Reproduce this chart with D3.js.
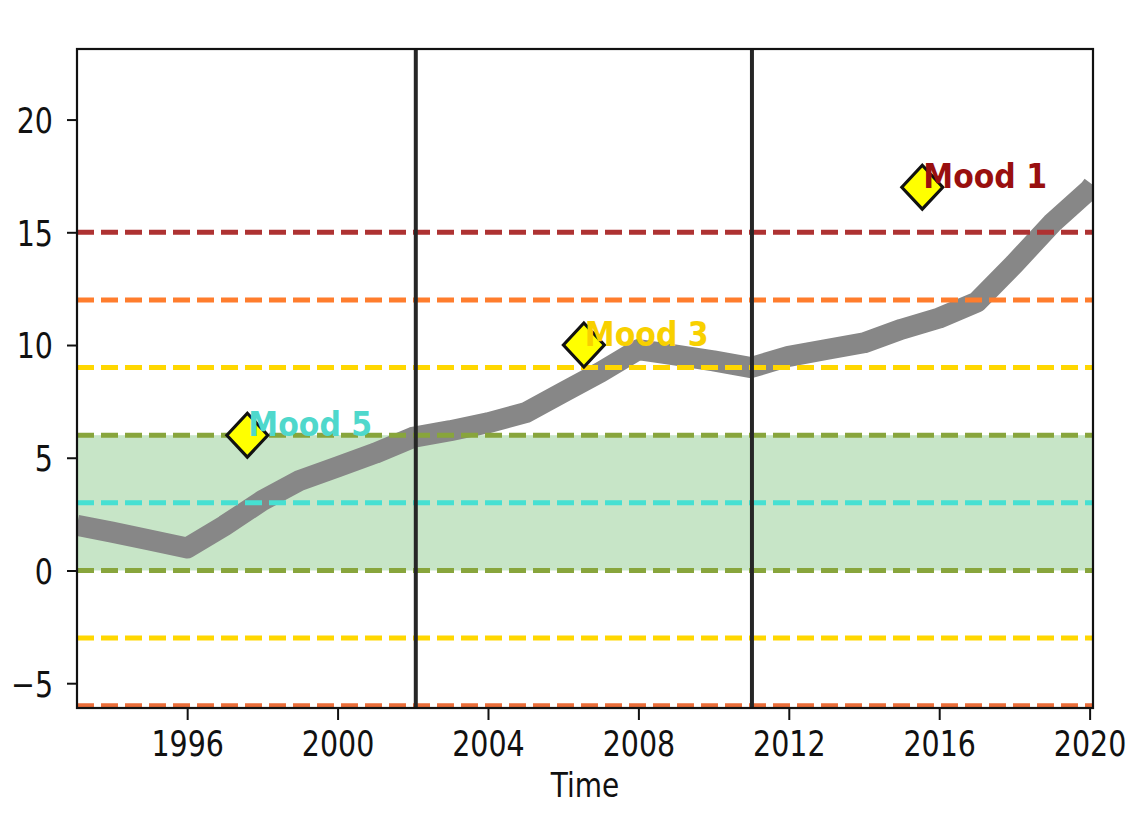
<!DOCTYPE html>
<html>
<head>
<meta charset="utf-8">
<script src="https://cdn.jsdelivr.net/npm/d3@7"></script>
<style>
  body { margin: 0; background: #fff; }
  svg { display: block; font-family: "DejaVu Sans", sans-serif; }
</style>
</head>
<body>
<svg id="chart" width="1132" height="820"></svg>
<script>
/* data */
var years = [1993.07, 1994, 1995, 1996, 1997, 1998, 1999, 2000, 2001, 2002, 2003, 2004, 2005, 2006,
             2007, 2008, 2009, 2010, 2011, 2012, 2013, 2014, 2015, 2016, 2017, 2018, 2019, 2020, 2020.09];
var values = [2.0, 1.7, 1.35, 1.0, 2.0, 3.1, 4.0, 4.6, 5.2, 5.9, 6.2, 6.55, 7.0, 7.9,
              8.8, 9.8, 9.55, 9.3, 9.0, 9.5, 9.8, 10.1, 10.7, 11.2, 11.9, 13.6, 15.4, 16.9, 17.1];

var levelValues = [15, 12, 9, 6, 3, 0, -3, -6];
var levelColors = ["#ae3232", "#ff7d2d", "#ffd700", "#88a53c", "#46e0d2", "#88a53c", "#ffd700", "#ea6e3a"];

var bandRange = [0, 6];
var periodBreaks = [2002.08, 2011.02];

var moodNames = ["Mood 5", "Mood 3", "Mood 1"];
var moodYears = [1997.6, 2006.55, 2015.55];
var moodValues = [6, 10, 17];
var moodColors = ["#4fd8cc", "#f8d000", "#990f0f"];

var xTicks = [1996, 2000, 2004, 2008, 2012, 2016, 2020];
var yTicks = [-5, 0, 5, 10, 15, 20];

/* layout */
var svg = d3.select("#chart");
var margin = { left: 77, top: 49, right: 1132 - 1093, bottom: 820 - 708 };
var width = 1132 - margin.left - margin.right;
var height = 820 - margin.top - margin.bottom;

var x = d3.scaleLinear().domain([1993.07, 2020.09]).range([0, width]);
var y = d3.scaleLinear().domain([-6.1, 23.13]).range([height, 0]);

var g = svg.append("g").attr("transform", `translate(${margin.left},${margin.top})`);

svg.append("defs").append("clipPath").attr("id", "plot-clip")
    .append("rect").attr("width", width).attr("height", height);

var plot = g.append("g").attr("clip-path", "url(#plot-clip)");

// green band
plot.append("rect")
    .attr("x", 0).attr("width", width)
    .attr("y", y(bandRange[1]))
    .attr("height", y(bandRange[0]) - y(bandRange[1]))
    .attr("fill", "#c7e5c7");

// grey series
var series = years.map((d, i) => ({ t: d, v: values[i] }));
plot.append("path")
    .datum(series)
    .attr("fill", "none")
    .attr("stroke", "#878787")
    .attr("stroke-width", 21)
    .attr("stroke-linejoin", "round")
    .attr("d", d3.line().x(d => x(d.t)).y(d => y(d.v)));

// dashed level lines
plot.selectAll(".level")
    .data(levelValues)
    .join("line")
    .attr("class", "level")
    .attr("x1", 0).attr("x2", width)
    .attr("y1", d => y(d)).attr("y2", d => y(d))
    .attr("stroke", (d, i) => levelColors[i])
    .attr("stroke-width", 5)
    .attr("stroke-dasharray", "17 7");

// period separators
plot.selectAll(".period")
    .data(periodBreaks)
    .join("line")
    .attr("class", "period")
    .attr("x1", d => x(d)).attr("x2", d => x(d))
    .attr("y1", 0).attr("y2", height)
    .attr("stroke", "#262626")
    .attr("stroke-width", 4);

// mood markers
var moods = moodNames.map((n, i) => ({ name: n, t: moodYears[i], v: moodValues[i], color: moodColors[i] }));
var square = d3.symbol(d3.symbolSquare, 841);
plot.selectAll(".marker")
    .data(moods)
    .join("path")
    .attr("class", "marker")
    .attr("d", square)
    .attr("transform", d => `translate(${x(d.t)},${y(d.v)}) scale(1,1.07) rotate(45)`)
    .attr("fill", "#ffff00")
    .attr("stroke", "#111")
    .attr("stroke-width", 3);

plot.selectAll(".mood")
    .data(moods)
    .join("text")
    .attr("class", "mood")
    .attr("transform", d => `translate(${x(d.t) + 1},${y(d.v) + 1}) scale(1,1.15)`)
    .attr("fill", d => d.color)
    .attr("font-size", 30)
    .attr("font-weight", "bold")
    .text(d => d.name);

// axes
var xAxis = g.append("g")
    .attr("transform", `translate(0,${height})`)
    .call(d3.axisBottom(x).tickValues(xTicks).tickFormat(d3.format("d")).tickSize(12).tickSizeOuter(0));
xAxis.selectAll("text")
    .attr("y", 38.5).attr("dy", 0)
    .attr("transform", "scale(1,1.25)")
    .attr("font-size", 28.5).attr("fill", "#111")
    .attr("font-family", "DejaVu Sans, sans-serif");

var yAxis = g.append("g")
    .call(d3.axisLeft(y).tickValues(yTicks).tickSize(10).tickPadding(14).tickSizeOuter(0));
yAxis.selectAll("text")
    .attr("dy", "0.36em")
    .attr("transform", "scale(1,1.25)")
    .attr("font-size", 28.5).attr("fill", "#111")
    .attr("font-family", "DejaVu Sans, sans-serif");

g.selectAll(".tick line").attr("stroke", "#111").attr("stroke-width", 2);
g.selectAll(".domain").remove();

// frame
g.append("rect")
    .attr("width", width).attr("height", height)
    .attr("fill", "none")
    .attr("stroke", "#111")
    .attr("stroke-width", 2.2);

// axis title
g.append("text")
    .attr("transform", `translate(${width / 2},${height + 89}) scale(1,1.18)`)
    .attr("text-anchor", "middle")
    .attr("font-size", 28)
    .attr("fill", "#111")
    .text("Time");
</script>
</body>
</html>
